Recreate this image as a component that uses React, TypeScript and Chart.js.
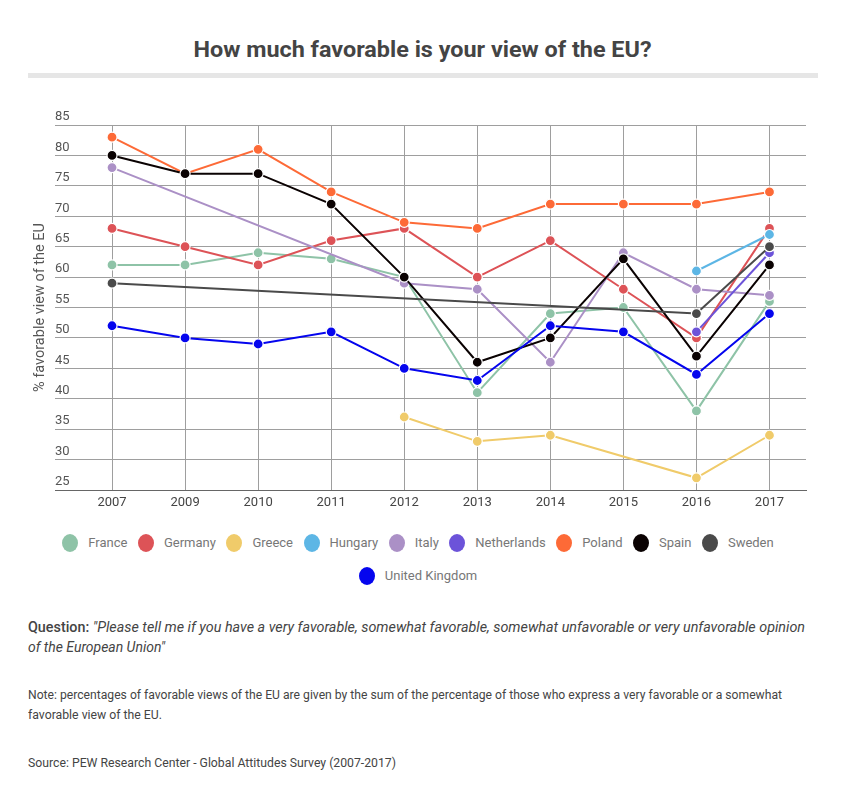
import React, { useEffect, useLayoutEffect, useRef } from "react";
import { Chart, registerables } from "chart.js";

Chart.register(...registerables);

// ---- data ----
const years = ["2007", "2009", "2010", "2011", "2012", "2013", "2014", "2015", "2016", "2017"];

const france = [62, 62, 64, 63, 60, 41, 54, 55, 38, 56];
const germany = [68, 65, 62, 66, 68, 60, 66, 58, 50, 68];
const greece = [null, null, null, null, 37, 33, 34, null, 27, 34];
const hungary = [null, null, null, null, null, null, null, null, 61, 67];
const italy = [78, null, null, null, 59, 58, 46, 64, 58, 57];
const netherlands = [null, null, null, null, null, null, null, null, 51, 64];
const poland = [83, 77, 81, 74, 69, 68, 72, 72, 72, 74];
const spain = [80, 77, 77, 72, 60, 46, 50, 63, 47, 62];
const sweden = [59, null, null, null, null, null, null, null, 54, 65];
const unitedKingdom = [52, 50, 49, 51, 45, 43, 52, 51, 44, 54];

const seriesNames = [
  "France", "Germany", "Greece", "Hungary", "Italy",
  "Netherlands", "Poland", "Spain", "Sweden", "United Kingdom",
];
const seriesValues = [france, germany, greece, hungary, italy, netherlands, poland, spain, sweden, unitedKingdom];
const seriesColors = [
  "#8ec3a7", "#dd5357", "#f0cb6a", "#5db6e5", "#ab90c6",
  "#6c53d9", "#fd6a37", "#0a0202", "#4a4a4a", "#0505ee",
];

const yMin = 25;
const yMax = 85;
const yStep = 5;

const titleText = "How much favorable is your view of the EU?";
const yAxisTitle = "% favorable view of the EU";

const GRID = "#9e9e9e";
const AXIS = "#666666";
const FONT = "Roboto, 'Open Sans', sans-serif";

function Fit({ width, origin = "left", style, children }: any) {
  const ref = useRef<HTMLSpanElement>(null);
  useLayoutEffect(() => {
    const el = ref.current;
    if (!el) return;
    el.style.transform = "none";
    const w = el.getBoundingClientRect().width;
    if (w > 0) el.style.transform = `scaleX(${width / w})`;
  }, [width]);
  return (
    <span
      ref={ref}
      style={{ display: "inline-block", whiteSpace: "nowrap", transformOrigin: origin, ...style }}
    >
      {children}
    </span>
  );
}

function LineChart() {
  const ref = useRef<HTMLCanvasElement>(null);
  useEffect(() => {
    const canvas = ref.current!;
    const gridColor = (ctx: any) => (ctx.tick && ctx.tick.value === yMin ? AXIS : GRID);
    const chart = new Chart(canvas, {
      type: "line",
      data: {
        labels: years,
        datasets: seriesNames.map((name, i) => ({
          label: name,
          data: seriesValues[i],
          borderColor: seriesColors[i],
          backgroundColor: seriesColors[i],
          pointBackgroundColor: seriesColors[i],
          pointBorderColor: "#ffffff",
          pointBorderWidth: 1.2,
          pointRadius: 5,
          borderWidth: 2,
          spanGaps: true,
          tension: 0,
          order: seriesNames.length - i,
        })),
      },
      options: {
        responsive: false,
        animation: false,
        events: [],
        layout: { padding: { left: 0, right: 32, top: 25, bottom: 0 } },
        plugins: { legend: { display: false }, tooltip: { enabled: false } },
        scales: {
          x: {
            type: "category",
            offset: true,
            grid: { color: GRID, lineWidth: 1, drawTicks: false },
            border: { display: true, color: AXIS, width: 1 },
            ticks: { color: "#444", font: { family: FONT, size: 13 }, padding: 5, maxRotation: 0 },
            afterFit: (s: any) => {
              s.height = 30;
            },
          },
          y: {
            min: yMin,
            max: yMax,
            ticks: {
              stepSize: yStep,
              mirror: true,
              padding: -20.5,
              labelOffset: -8,
              color: "#555",
              font: { family: FONT, size: 13 },
            },
            grid: { color: gridColor, tickColor: gridColor, tickLength: 20.5, lineWidth: 1 },
            border: { display: false },
            title: {
              display: true,
              text: yAxisTitle,
              color: "#555",
              font: { family: FONT, size: 14.5 },
              padding: { top: 23.6, bottom: 0 },
            },
            afterFit: (s: any) => {
              s.width = 67.5;
            },
          },
        },
      },
    });
    return () => chart.destroy();
  }, []);
  return (
    <canvas
      ref={ref}
      width={830}
      height={420}
      style={{ position: "absolute", left: 0, top: 92, width: 830, height: 420 }}
    />
  );
}

function LegendItem({ name, color, first }: any) {
  return (
    <div style={{ display: "flex", alignItems: "center", marginLeft: first ? 0 : 10.5, height: 18 }}>
      <span
        style={{
          display: "inline-block",
          width: 16,
          height: 18,
          borderRadius: "50%",
          background: color,
          marginRight: 10,
        }}
      />
      <span style={{ fontSize: 13, color: "#777", whiteSpace: "nowrap", lineHeight: "18px" }}>{name}</span>
    </div>
  );
}

function Legend() {
  const rows = [seriesNames.slice(0, 9), seriesNames.slice(9)];
  let idx = 0;
  return (
    <div style={{ position: "absolute", left: 0, top: 526, width: 830 }}>
      {rows.map((row, r) => (
        <div
          key={r}
          style={{
            display: "flex",
            justifyContent: "center",
            paddingRight: 10,
            height: 18,
            marginBottom: 15,
          }}
        >
          {row.map((name, j) => {
            const k = idx++;
            return <LegendItem key={name} name={name} color={seriesColors[k]} first={j === 0} />;
          })}
        </div>
      ))}
    </div>
  );
}

export default function App() {
  const textColor = "#444";
  return (
    <div
      style={{
        position: "relative",
        width: 830,
        height: 789,
        fontFamily: FONT,
        background: "#fff",
        overflow: "hidden",
      }}
    >
      <div
        style={{
          position: "absolute",
          left: 0,
          top: 29,
          width: 830,
          textAlign: "center",
          fontSize: 22,
          lineHeight: "26px",
          fontWeight: 700,
          color: textColor,
        }}
      >
        <Fit width={458} origin="center">{titleText}</Fit>
      </div>
      <div style={{ position: "absolute", left: 20, top: 65, width: 790, height: 5, background: "#e6e6e6" }} />

      <LineChart />
      <Legend />

      <div style={{ position: "absolute", left: 20, top: 609, fontSize: 14, lineHeight: "20px", color: textColor }}>
        <div>
          <Fit width={777}>
            <span style={{ fontWeight: 500 }}>Question: </span>
            <i>"Please tell me if you have a very favorable, somewhat favorable, somewhat unfavorable or very unfavorable opinion</i>
          </Fit>
        </div>
        <div>
          <Fit width={137}>
            <i>of the European Union"</i>
          </Fit>
        </div>
      </div>

      <div style={{ position: "absolute", left: 20, top: 677, fontSize: 12.5, lineHeight: "20px", color: textColor }}>
        <div>
          <Fit width={754}>
            Note: percentages of favorable views of the EU are given by the sum of the percentage of those who express a very favorable or a somewhat
          </Fit>
        </div>
        <div>
          <Fit width={134}>favorable view of the EU.</Fit>
        </div>
      </div>

      <div style={{ position: "absolute", left: 20, top: 745, fontSize: 12.5, lineHeight: "20px", color: textColor }}>
        <Fit width={368}>Source: PEW Research Center - Global Attitudes Survey (2007-2017)</Fit>
      </div>
    </div>
  );
}
